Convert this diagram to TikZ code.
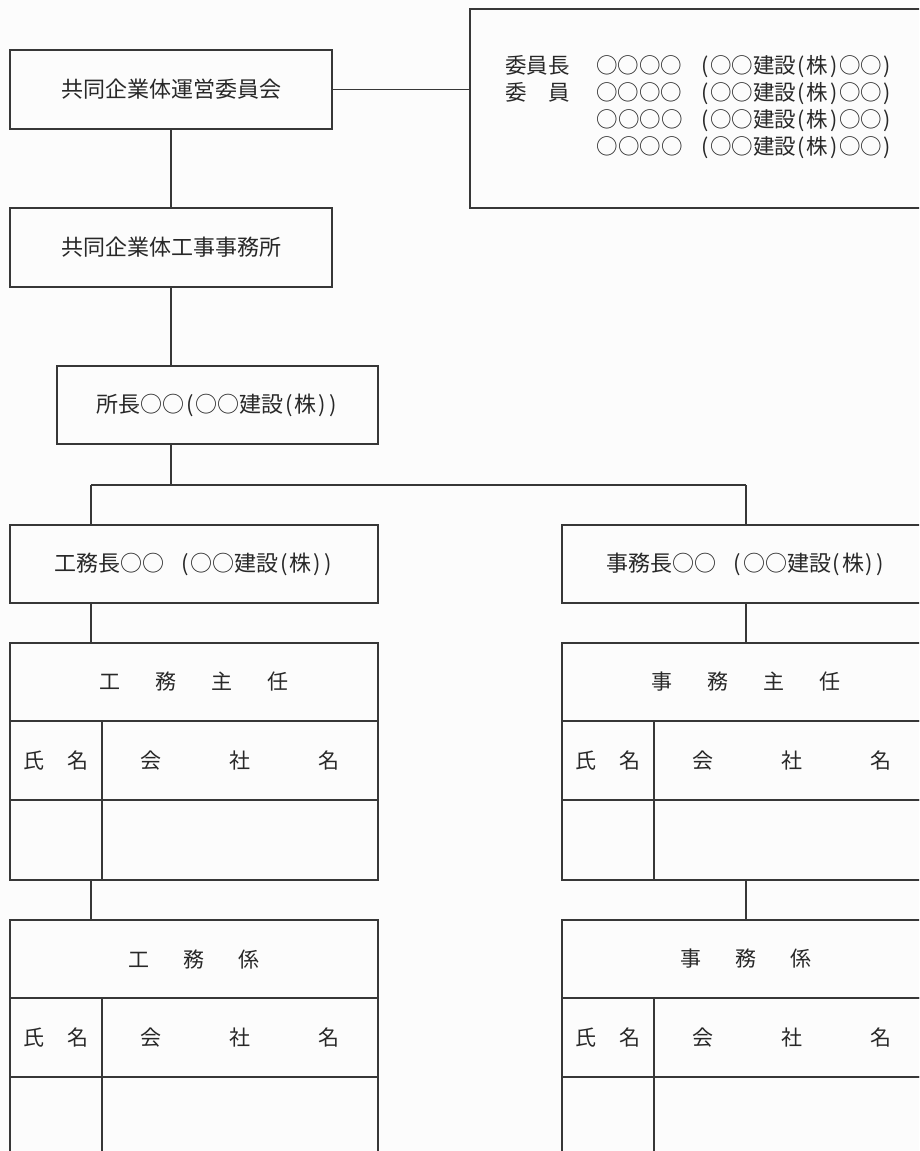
\documentclass[tikz,border=0pt]{standalone}
\usepackage{fontspec}
\usepackage{graphicx}
\setmainfont{Noto Sans CJK JP}
\definecolor{lncol}{RGB}{55,55,55}
\definecolor{txtcol}{RGB}{40,40,40}
\definecolor{bgcol}{RGB}{252,252,252}
\newcommand\jlp{\makebox[0.5em][c]{(}}
\newcommand\jrp{\makebox[0.5em][c]{)}}
\newcommand\comrest{○○○○\hspace{17pt}\jlp{}○○建設\jlp{}株\jrp{}○○\jrp{}}
\begin{document}
\begin{tikzpicture}[x=1pt,y=-1pt,
  ln/.style={draw=lncol, line width=1.1pt},
  box/.style={draw=lncol, line width=1.1pt, rectangle, inner sep=0pt, outer sep=0pt,
    text=txtcol, font=\fontsize{22}{26}\selectfont},
  cell/.style={box, font=\fontsize{21}{25}\selectfont},
  txt/.style={inner sep=0pt, outer sep=0pt, text=txtcol, font=\fontsize{21.5}{25}\selectfont}]
\fill[bgcol] (0,0) rectangle (919,1151);
\clip (0,0) rectangle (919,1151);
% top
\node[box, minimum width=322, minimum height=79] (b1) at (171,89.5) {共同企業体運営委員会};
\node[box, minimum width=460, minimum height=199] (com) at (700,108.5) {};
\node[txt, anchor=west] (c1) at (505,67) {委員長\hspace{27pt}\comrest};
\node[txt, anchor=west] (c2) at (505,94) {\makebox[3em][s]{委\hfill 員}\hspace{27pt}\comrest};
\node[txt, anchor=west] (c3) at (505,121) {\hspace{3em}\hspace{27pt}\comrest};
\node[txt, anchor=west] (c4) at (505,148) {\hspace{3em}\hspace{27pt}\comrest};
\node[box, minimum width=322, minimum height=79] (b2) at (171,247.5) {共同企業体工事事務所};
\node[box, minimum width=321, minimum height=78] (b3) at (217.5,405) {所長○○\jlp{}○○建設\jlp{}株\jrp{}\jrp{}};
% section heads
\node[box, minimum width=368, minimum height=78] (kmc) at (194,564) {工務長○○\hspace{16pt}\jlp{}○○建設\jlp{}株\jrp{}\jrp{}};
\node[box, minimum width=368, minimum height=78] (jmc) at (746,564) {事務長○○\hspace{16pt}\jlp{}○○建設\jlp{}株\jrp{}\jrp{}};
% left table 1
\node[cell, minimum width=368, minimum height=78] (kt) at (194,682) {工\hspace{35pt}務\hspace{35pt}主\hspace{35pt}任};
\node[cell, minimum width=92, minimum height=79] (kh1) at (56,760.5) {氏\hspace{23pt}名};
\node[cell, minimum width=276, minimum height=79] (kh2) at (240,760.5) {会\hspace{68pt}社\hspace{68pt}名};
\node[cell, minimum width=92, minimum height=80] (kb1) at (56,840) {};
\node[cell, minimum width=276, minimum height=80] (kb2) at (240,840) {};
% right table 1
\node[cell, minimum width=368, minimum height=78] (jt) at (746,682) {事\hspace{35pt}務\hspace{35pt}主\hspace{35pt}任};
\node[cell, minimum width=92, minimum height=79] (jh1) at (608,760.5) {氏\hspace{23pt}名};
\node[cell, minimum width=276, minimum height=79] (jh2) at (792,760.5) {会\hspace{68pt}社\hspace{68pt}名};
\node[cell, minimum width=92, minimum height=80] (jb1) at (608,840) {};
\node[cell, minimum width=276, minimum height=80] (jb2) at (792,840) {};
% left table 2
\node[cell, minimum width=368, minimum height=78] (kk) at (194,959) {工\hspace{34pt}務\hspace{34pt}係};
\node[cell, minimum width=92, minimum height=79] (kk1) at (56,1037.5) {氏\hspace{23pt}名};
\node[cell, minimum width=276, minimum height=79] (kk2) at (240,1037.5) {会\hspace{68pt}社\hspace{68pt}名};
\node[cell, minimum width=92, minimum height=83] (kkb1) at (56,1118.5) {};
\node[cell, minimum width=276, minimum height=83] (kkb2) at (240,1118.5) {};
% right table 2
\node[cell, minimum width=368, minimum height=78] (jk) at (746,959) {事\hspace{34pt}務\hspace{34pt}係};
\node[cell, minimum width=92, minimum height=79] (jk1) at (608,1037.5) {氏\hspace{23pt}名};
\node[cell, minimum width=276, minimum height=79] (jk2) at (792,1037.5) {会\hspace{68pt}社\hspace{68pt}名};
\node[cell, minimum width=92, minimum height=83] (jkb1) at (608,1118.5) {};
\node[cell, minimum width=276, minimum height=83] (jkb2) at (792,1118.5) {};
% connectors
\coordinate (jL) at (91,485);
\coordinate (jR) at (746,485);
\coordinate (jM) at (171,485);
\draw[ln] (b1.south) -- (b2.north);
\draw[ln] (b1.east) -- (b1.east -| com.west);
\draw[ln] (b2.south) -- (b2.south |- b3.north);
\draw[ln] (b2.south |- b3.south) -- (jM);
\draw[ln] (jL) -- (jR);
\draw[ln] (jL) -- (jL |- kmc.north);
\draw[ln] (jR) -- (jmc.north);
\draw[ln] (jL |- kmc.south) -- (jL |- kt.north);
\draw[ln] (jmc.south) -- (jt.north);
\draw[ln] (jL |- kb1.south) -- (jL |- kk.north);
\draw[ln] (jR |- jb2.south) -- (jk.north);
\end{tikzpicture}
\end{document}
